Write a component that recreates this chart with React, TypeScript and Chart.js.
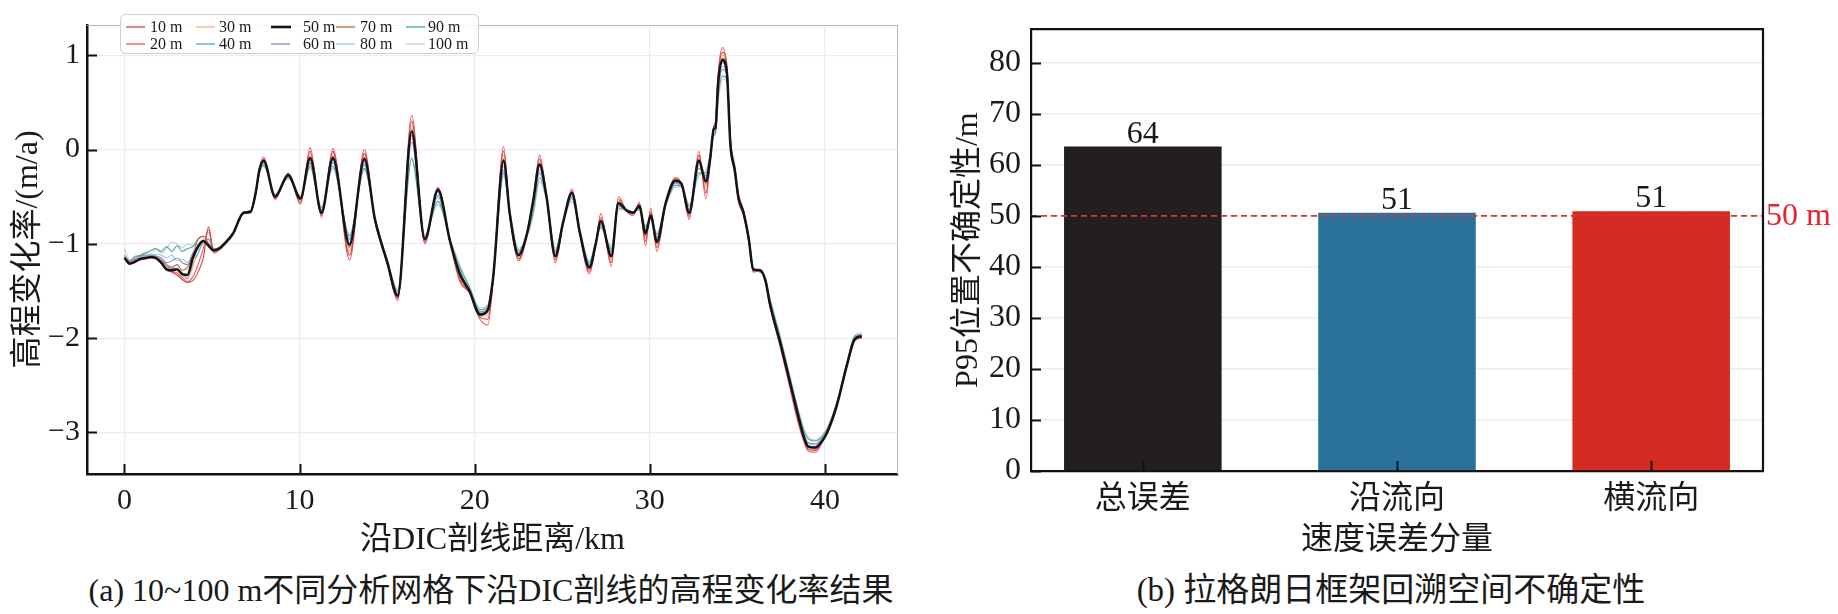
import React, { useEffect, useRef } from 'react';
import { Chart, registerables } from 'chart.js';
Chart.register(...registerables);

const SERIF = '"Liberation Serif", "Noto Sans CJK SC", serif';
const INK = '#1a1a1a';

// ---------------- (a) elevation change rate along the DIC profile ----------------
const DIST_KM = [
  0, 0.3, 0.6, 0.9, 1.2, 1.5, 1.8, 2.1, 2.4, 2.7, 3.0, 3.3, 3.6, 3.9, 4.2, 4.5, 4.8, 5.1, 5.4, 5.7, 6.2,
  6.8, 7.2, 7.5, 7.7, 7.95, 8.6, 9.35, 10.05, 10.6, 11.25,
  11.9, 12.85, 13.7, 14.3, 14.6, 15.0, 15.6, 16.4, 17.15, 17.9,
  18.6, 19.15, 19.7, 20.3, 20.75, 21.05, 21.65, 22.0, 22.5, 23.0,
  23.35, 23.7, 24.1, 24.6, 25.05, 25.55, 26.0, 26.55, 26.9, 27.2,
  27.8, 28.2, 28.7, 29.05, 29.4, 29.75, 30.05, 30.4, 30.9, 31.45,
  31.8, 32.25, 32.8, 33.2, 33.45, 33.65, 33.75, 33.9, 34.15, 34.4,
  34.6, 34.85, 35.05, 35.35, 35.65, 35.9, 36.3, 36.6, 36.85, 37.45,
  37.9, 38.4, 38.8, 39.05, 39.45, 39.8, 40.1, 40.65, 41.25, 41.7,
  42.1,
];

const GRID_LABELS = ['10 m', '20 m', '30 m', '40 m', '50 m', '60 m', '70 m', '80 m', '90 m', '100 m'];
const GRID_COLORS = ['#cc4450', '#f05555', '#f6b383', '#4ba2d6', '#141414', '#8d86c9', '#b9692f', '#95cde8', '#3fae80', '#c8c3ea'];

const RATE_10M = [
  -1.15, -1.21, -1.19, -1.17, -1.16, -1.15, -1.16, -1.21, -1.28, -1.30, -1.33, -1.38, -1.41, -1.39, -1.30, -1.15, -0.82, -1.08, -1.06, -1.01, -0.90,
  -0.68, -0.66, -0.45, -0.21, -0.10, -0.52, -0.26, -0.56, -0.02, -0.70,
  -0.02, -1.12, -0.04, -0.75, -0.96, -1.20, -1.58, 0.30, -0.98, -0.41,
  -0.99, -1.38, -1.51, -1.78, -1.80, -1.37, -0.02, -0.69, -1.16, -0.89,
  -0.52, -0.10, -0.50, -1.17, -0.78, -0.44, -0.89, -1.29, -1.01, -0.72,
  -1.20, -0.53, -0.65, -0.68, -0.58, -0.97, -0.66, -1.04, -0.57, -0.31,
  -0.36, -0.71, -0.06, -0.46, -0.11, 0.24, 0.28, 0.78, 1.03, 0.90,
  0.10, -0.20, -0.53, -0.69, -0.97, -1.29, -1.28, -1.40, -1.65, -2.08,
  -2.42, -2.82, -3.08, -3.18, -3.19, -3.11, -3.00, -2.71, -2.30, -2.02,
  -1.99,
];
const RATE_20M = [
  -1.14, -1.20, -1.19, -1.16, -1.15, -1.14, -1.15, -1.20, -1.27, -1.29, -1.31, -1.36, -1.40, -1.35, -1.22, -1.05, -0.85, -1.10, -1.07, -1.01, -0.90,
  -0.68, -0.67, -0.46, -0.20, -0.08, -0.53, -0.25, -0.58, 0.02, -0.72,
  0.01, -1.17, 0.00, -0.76, -0.97, -1.21, -1.60, 0.36, -1.00, -0.40,
  -1.00, -1.40, -1.52, -1.80, -1.86, -1.38, 0.03, -0.70, -1.18, -0.90,
  -0.52, -0.06, -0.50, -1.20, -0.78, -0.42, -0.90, -1.32, -1.02, -0.68,
  -1.24, -0.50, -0.66, -0.70, -0.56, -1.02, -0.62, -1.08, -0.58, -0.30,
  -0.36, -0.74, -0.02, -0.52, -0.12, 0.25, 0.30, 0.80, 1.08, 0.85,
  0.08, -0.25, -0.55, -0.70, -0.98, -1.30, -1.28, -1.40, -1.66, -2.10,
  -2.45, -2.85, -3.10, -3.20, -3.21, -3.12, -3.00, -2.70, -2.30, -2.03,
  -2.00,
];
const RATE_30M = [
  -1.14, -1.20, -1.18, -1.15, -1.14, -1.13, -1.14, -1.19, -1.25, -1.27, -1.28, -1.34, -1.36, -1.25, -1.02, -0.95, -0.88, -1.06, -1.05, -1.00, -0.89,
  -0.67, -0.66, -0.45, -0.21, -0.11, -0.51, -0.27, -0.54, -0.05, -0.69,
  -0.04, -1.08, -0.05, -0.75, -0.96, -1.20, -1.57, 0.25, -0.97, -0.42,
  -0.99, -1.35, -1.51, -1.77, -1.75, -1.37, -0.06, -0.69, -1.14, -0.89,
  -0.53, -0.12, -0.50, -1.15, -0.78, -0.45, -0.89, -1.27, -1.01, -0.74,
  -1.17, -0.55, -0.65, -0.68, -0.59, -0.93, -0.68, -1.01, -0.57, -0.32,
  -0.36, -0.69, -0.08, -0.40, -0.10, 0.23, 0.26, 0.75, 1.00, 0.85,
  0.08, -0.21, -0.51, -0.68, -0.96, -1.28, -1.28, -1.39, -1.64, -2.06,
  -2.40, -2.79, -3.06, -3.17, -3.18, -3.11, -3.01, -2.72, -2.29, -2.01,
  -1.98,
];
const RATE_40M = [
  -1.15, -1.20, -1.18, -1.15, -1.14, -1.13, -1.14, -1.18, -1.24, -1.26, -1.27, -1.33, -1.37, -1.22, -1.10, -0.98, -0.95, -1.05, -1.05, -1.00, -0.89,
  -0.67, -0.66, -0.45, -0.22, -0.13, -0.50, -0.28, -0.52, -0.11, -0.66,
  -0.11, -0.99, -0.12, -0.74, -0.95, -1.19, -1.54, 0.22, -0.94, -0.45,
  -0.98, -1.31, -1.50, -1.74, -1.70, -1.36, -0.12, -0.68, -1.11, -0.88,
  -0.54, -0.18, -0.50, -1.12, -0.77, -0.47, -0.88, -1.24, -1.00, -0.77,
  -1.11, -0.58, -0.65, -0.67, -0.61, -0.88, -0.71, -0.96, -0.57, -0.34,
  -0.37, -0.66, -0.14, -0.32, -0.08, 0.20, 0.22, 0.68, 0.92, 0.80,
  0.04, -0.23, -0.50, -0.67, -0.95, -1.27, -1.29, -1.38, -1.62, -2.04,
  -2.38, -2.77, -3.05, -3.14, -3.15, -3.09, -3.00, -2.73, -2.28, -2.00,
  -1.97,
];
const RATE_50M = [
  -1.15, -1.21, -1.19, -1.16, -1.15, -1.14, -1.15, -1.20, -1.27, -1.28, -1.27, -1.32, -1.33, -1.15, -1.03, -0.97, -1.02, -1.07, -1.05, -1.00, -0.89,
  -0.67, -0.66, -0.45, -0.22, -0.12, -0.50, -0.27, -0.52, -0.09, -0.67,
  -0.09, -1.01, -0.10, -0.74, -0.95, -1.19, -1.55, 0.19, -0.95, -0.43,
  -0.98, -1.32, -1.50, -1.75, -1.70, -1.36, -0.12, -0.68, -1.12, -0.88,
  -0.53, -0.16, -0.50, -1.13, -0.77, -0.46, -0.88, -1.25, -1.01, -0.76,
  -1.13, -0.57, -0.65, -0.67, -0.60, -0.89, -0.70, -0.98, -0.57, -0.33,
  -0.36, -0.67, -0.12, -0.34, -0.09, 0.22, 0.23, 0.71, 0.95, 0.81,
  0.05, -0.22, -0.50, -0.67, -0.95, -1.27, -1.28, -1.39, -1.63, -2.05,
  -2.39, -2.77, -3.05, -3.15, -3.16, -3.10, -3.01, -2.73, -2.29, -2.01,
  -1.98,
];
const RATE_60M = [
  -1.12, -1.18, -1.16, -1.13, -1.12, -1.12, -1.13, -1.15, -1.20, -1.18, -1.15, -1.20, -1.22, -1.10, -1.02, -0.97, -1.02, -1.06, -1.05, -1.00, -0.89,
  -0.67, -0.66, -0.46, -0.24, -0.15, -0.49, -0.29, -0.51, -0.15, -0.64,
  -0.14, -0.95, -0.16, -0.73, -0.94, -1.18, -1.52, 0.08, -0.93, -0.50,
  -0.97, -1.29, -1.49, -1.72, -1.68, -1.35, -0.22, -0.67, -1.09, -0.89,
  -0.58, -0.25, -0.51, -1.09, -0.77, -0.50, -0.87, -1.22, -1.00, -0.80,
  -1.08, -0.60, -0.65, -0.67, -0.62, -0.85, -0.72, -0.93, -0.58, -0.36,
  -0.38, -0.63, -0.20, -0.28, -0.06, 0.18, 0.20, 0.60, 0.85, 0.78,
  0.06, -0.22, -0.49, -0.66, -0.94, -1.26, -1.29, -1.38, -1.61, -2.03,
  -2.37, -2.75, -3.02, -3.11, -3.12, -3.07, -2.99, -2.72, -2.27, -2.00,
  -1.96,
];
const RATE_70M = [
  -1.14, -1.19, -1.17, -1.15, -1.14, -1.13, -1.14, -1.17, -1.22, -1.25, -1.22, -1.28, -1.25, -1.12, -0.95, -0.92, -1.00, -1.06, -1.05, -1.00, -0.89,
  -0.67, -0.66, -0.45, -0.22, -0.12, -0.51, -0.27, -0.53, -0.08, -0.68,
  -0.07, -1.04, -0.08, -0.75, -0.96, -1.20, -1.56, 0.15, -0.96, -0.44,
  -0.98, -1.33, -1.50, -1.76, -1.72, -1.36, -0.10, -0.68, -1.13, -0.88,
  -0.53, -0.15, -0.50, -1.14, -0.77, -0.46, -0.88, -1.26, -1.01, -0.75,
  -1.15, -0.56, -0.65, -0.68, -0.60, -0.91, -0.69, -1.00, -0.57, -0.33,
  -0.36, -0.68, -0.10, -0.37, -0.10, 0.21, 0.24, 0.72, 0.97, 0.84,
  0.06, -0.22, -0.51, -0.68, -0.96, -1.28, -1.28, -1.39, -1.64, -2.06,
  -2.39, -2.78, -3.06, -3.16, -3.17, -3.10, -3.01, -2.72, -2.29, -2.01,
  -1.98,
];
const RATE_80M = [
  -1.13, -1.18, -1.16, -1.14, -1.13, -1.12, -1.11, -1.12, -1.15, -1.12, -1.18, -1.16, -1.20, -1.10, -1.05, -0.98, -1.00, -1.05, -1.04, -1.00, -0.89,
  -0.67, -0.66, -0.46, -0.23, -0.14, -0.49, -0.28, -0.51, -0.13, -0.65,
  -0.13, -0.96, -0.14, -0.73, -0.95, -1.18, -1.52, 0.12, -0.93, -0.48,
  -0.97, -1.30, -1.49, -1.73, -1.69, -1.35, -0.18, -0.67, -1.10, -0.88,
  -0.56, -0.22, -0.51, -1.10, -0.77, -0.49, -0.87, -1.23, -1.00, -0.79,
  -1.09, -0.59, -0.65, -0.67, -0.62, -0.86, -0.72, -0.94, -0.58, -0.35,
  -0.37, -0.64, -0.17, -0.30, -0.07, 0.19, 0.21, 0.64, 0.88, 0.79,
  0.07, -0.20, -0.49, -0.66, -0.94, -1.26, -1.29, -1.38, -1.61, -2.03,
  -2.37, -2.76, -3.03, -3.12, -3.13, -3.08, -2.99, -2.72, -2.27, -1.99,
  -1.96,
];
const RATE_90M = [
  -1.15, -1.18, -1.14, -1.12, -1.10, -1.07, -1.05, -1.08, -1.03, -1.08, -1.02, -1.08, -1.05, -1.03, -0.95, -0.92, -1.00, -1.05, -1.04, -0.99, -0.88,
  -0.66, -0.65, -0.47, -0.25, -0.17, -0.48, -0.30, -0.50, -0.18, -0.62,
  -0.18, -0.92, -0.20, -0.72, -0.93, -1.17, -1.50, -0.10, -0.92, -0.55,
  -0.96, -1.25, -1.46, -1.70, -1.66, -1.34, -0.25, -0.66, -1.07, -0.90,
  -0.65, -0.30, -0.52, -1.07, -0.77, -0.52, -0.86, -1.20, -0.99, -0.82,
  -1.05, -0.62, -0.64, -0.66, -0.63, -0.82, -0.73, -0.90, -0.59, -0.38,
  -0.39, -0.60, -0.25, -0.25, -0.05, 0.15, 0.18, 0.55, 0.78, 0.75,
  0.10, -0.18, -0.47, -0.65, -0.93, -1.25, -1.30, -1.37, -1.58, -2.00,
  -2.34, -2.72, -2.98, -3.07, -3.09, -3.05, -2.97, -2.70, -2.26, -1.98,
  -1.96,
];
const RATE_100M = [
  -1.05, -1.17, -1.13, -1.12, -1.09, -1.10, -1.06, -1.10, -1.05, -0.98, -1.00, -1.04, -1.00, -1.02, -1.00, -0.97, -1.02, -1.06, -1.05, -1.00, -0.89,
  -0.66, -0.65, -0.47, -0.26, -0.18, -0.47, -0.31, -0.49, -0.20, -0.60,
  -0.20, -0.90, -0.22, -0.71, -0.92, -1.16, -1.48, -0.08, -0.90, -0.58,
  -0.95, -1.22, -1.45, -1.68, -1.64, -1.33, -0.28, -0.65, -1.05, -0.92,
  -0.70, -0.34, -0.54, -1.05, -0.78, -0.55, -0.85, -1.18, -0.98, -0.84,
  -1.02, -0.64, -0.64, -0.66, -0.64, -0.80, -0.74, -0.88, -0.60, -0.40,
  -0.40, -0.58, -0.28, -0.22, -0.04, 0.14, 0.17, 0.50, 0.75, 0.72,
  0.12, -0.16, -0.46, -0.64, -0.92, -1.24, -1.30, -1.36, -1.56, -1.98,
  -2.32, -2.70, -2.96, -3.05, -3.08, -3.04, -2.96, -2.69, -2.25, -1.97,
  -1.94,
];

const X_TITLE_A = '沿DIC剖线距离/km';
const Y_TITLE_A = '高程变化率/(m/a)';
const CAPTION_A = '(a) 10~100 m不同分析网格下沿DIC剖线的高程变化率结果';

// ---------------- (b) P95 position uncertainty ----------------
const COMPONENTS = ['总误差', '沿流向', '横流向'];
const P95_UNCERTAINTY = [63.6, 50.6, 50.9];
const BAR_COLORS = ['#231f20', '#2a7299', '#d42b22'];
const THRESHOLD_M = 50;
const THRESHOLD_LABEL = '50 m';
const X_TITLE_B = '速度误差分量';
const Y_TITLE_B = 'P95位置不确定性/m';
const CAPTION_B = '(b) 拉格朗日框架回溯空间不确定性';

const fmtMinus = (v: number) => (v < 0 ? '\u2212' + Math.abs(v) : String(v));

function drawInsideTicks(chart: any, len: number, width: number) {
  const { ctx, chartArea, scales } = chart;
  const { left, bottom } = chartArea;
  ctx.save();
  ctx.strokeStyle = '#111';
  ctx.lineWidth = width;
  scales.x.ticks.forEach((t: any) => {
    const px = Math.round(scales.x.getPixelForValue(t.value)) + 0.5;
    ctx.beginPath();
    ctx.moveTo(px, bottom);
    ctx.lineTo(px, bottom - len);
    ctx.stroke();
  });
  scales.y.ticks.forEach((t: any) => {
    const py = Math.round(scales.y.getPixelForValue(t.value)) + 0.5;
    ctx.beginPath();
    ctx.moveTo(left, py);
    ctx.lineTo(left + len, py);
    ctx.stroke();
  });
  ctx.restore();
}

const frameA = {
  id: 'frameA',
  afterDraw(chart: any) {
    const { ctx, chartArea } = chart;
    const { left, right, top, bottom } = chartArea;
    ctx.save();
    ctx.strokeStyle = '#b8b8b8';
    ctx.lineWidth = 1;
    ctx.beginPath();
    ctx.moveTo(left, top + 0.5);
    ctx.lineTo(right, top + 0.5);
    ctx.moveTo(right - 0.5, top);
    ctx.lineTo(right - 0.5, bottom);
    ctx.stroke();
    ctx.restore();
    drawInsideTicks(chart, 10, 2);
  },
};

const legendA = {
  id: 'legendA',
  afterDraw(chart: any) {
    const { ctx } = chart;
    const ds = chart.data.datasets;
    const lineX = [126, 196, 271, 336, 406];
    const textX = [150, 219, 303, 360, 428];
    const rowY = [27, 44];
    ctx.save();
    ctx.beginPath();
    ctx.roundRect(120.5, 14.5, 358, 39, 5);
    ctx.fillStyle = 'rgba(255,255,255,0.85)';
    ctx.fill();
    ctx.strokeStyle = '#cfcfcf';
    ctx.lineWidth = 1;
    ctx.stroke();
    ctx.font = `16px ${SERIF}`;
    ctx.textBaseline = 'middle';
    ds.forEach((d: any, i: number) => {
      const c = Math.floor(i / 2);
      const r = i % 2;
      const thick = d.borderWidth > 2;
      ctx.strokeStyle = d.borderColor;
      ctx.lineWidth = thick ? 2.6 : 1.3;
      ctx.beginPath();
      ctx.moveTo(lineX[c], rowY[r]);
      ctx.lineTo(lineX[c] + (thick ? 20 : 19), rowY[r]);
      ctx.stroke();
      ctx.fillStyle = INK;
      ctx.fillText(d.label, textX[c], rowY[r] + 1);
    });
    ctx.restore();
  },
};

const decorB = {
  id: 'decorB',
  afterDatasetsDraw(chart: any) {
    const { ctx, chartArea, scales } = chart;
    const { left, right } = chartArea;
    const yPx = scales.y.getPixelForValue(THRESHOLD_M);
    ctx.save();
    ctx.strokeStyle = '#d8343c';
    ctx.lineWidth = 1.6;
    ctx.setLineDash([6, 4]);
    ctx.beginPath();
    ctx.moveTo(left, yPx);
    ctx.lineTo(right, yPx);
    ctx.stroke();
    ctx.setLineDash([]);
    ctx.fillStyle = '#e8232b';
    ctx.font = `32px ${SERIF}`;
    ctx.textBaseline = 'middle';
    ctx.textAlign = 'left';
    ctx.fillText(THRESHOLD_LABEL, right + 3, yPx + 1);
    const meta = chart.getDatasetMeta(0);
    ctx.fillStyle = INK;
    ctx.textAlign = 'center';
    ctx.textBaseline = 'alphabetic';
    meta.data.forEach((el: any, i: number) => {
      ctx.fillText(String(Math.round(P95_UNCERTAINTY[i])), el.x, el.y - 4);
    });
    ctx.restore();
  },
  afterDraw(chart: any) {
    const { ctx, chartArea } = chart;
    const { left, right, top, bottom } = chartArea;
    ctx.save();
    ctx.strokeStyle = '#111';
    ctx.lineWidth = 2.2;
    ctx.beginPath();
    ctx.moveTo(left, top);
    ctx.lineTo(right, top);
    ctx.lineTo(right, bottom);
    ctx.stroke();
    ctx.restore();
    drawInsideTicks(chart, 10, 2);
  },
};

function ProfileChart() {
  const ref = useRef<HTMLCanvasElement>(null);
  useEffect(() => {
    const series = [RATE_10M, RATE_20M, RATE_30M, RATE_40M, RATE_50M, RATE_60M, RATE_70M, RATE_80M, RATE_90M, RATE_100M];
    const chart = new Chart(ref.current as HTMLCanvasElement, {
      type: 'line',
      data: {
        datasets: series.map((arr, i) => ({
          label: GRID_LABELS[i],
          data: DIST_KM.map((x, j) => ({ x, y: arr[j] })),
          borderColor: GRID_COLORS[i],
          borderWidth: i === 4 ? 2.5 : 1.1,
          pointRadius: 0,
          fill: false,
          cubicInterpolationMode: 'monotone',
          order: i === 4 ? 0 : 1,
        })),
      },
      options: {
        responsive: false,
        animation: false,
        events: [],
        layout: { padding: { left: 0, top: 13, right: 22, bottom: 0 } },
        plugins: { legend: { display: false }, tooltip: { enabled: false } },
        scales: {
          x: {
            type: 'linear',
            min: -2.14,
            max: 44.17,
            ticks: {
              stepSize: 10,
              includeBounds: false,
              autoSkip: false,
              maxRotation: 0,
              padding: 9,
              color: INK,
              font: { family: SERIF, size: 30 },
            },
            grid: { color: '#ececec', lineWidth: 1.2, drawTicks: false },
            border: { display: true, color: '#111', width: 2.5 },
            title: {
              display: true,
              text: X_TITLE_A,
              color: INK,
              font: { family: SERIF, size: 32 },
              padding: { top: 0, bottom: 0 },
            },
            afterFit: (s: any) => {
              s.height = 86;
            },
          },
          y: {
            type: 'linear',
            min: -3.44,
            max: 1.32,
            ticks: {
              stepSize: 1,
              includeBounds: false,
              padding: 7,
              color: INK,
              font: { family: SERIF, size: 30 },
              callback: (v: any) => fmtMinus(Number(v)),
            },
            grid: { color: '#ececec', lineWidth: 1.2, drawTicks: false },
            border: { display: true, color: '#111', width: 2.5 },
            title: {
              display: true,
              text: Y_TITLE_A,
              color: INK,
              font: { family: SERIF, size: 32 },
              padding: { top: 9, bottom: 0 },
            },
            afterFit: (s: any) => {
              s.width = 87;
            },
          },
        },
      },
      plugins: [frameA, legendA],
    } as any);
    return () => chart.destroy();
  }, []);
  return (
    <canvas
      ref={ref}
      width={920}
      height={560}
      style={{ position: 'absolute', left: 0, top: 0, width: 920, height: 560 }}
    />
  );
}

function UncertaintyChart() {
  const ref = useRef<HTMLCanvasElement>(null);
  useEffect(() => {
    const chart = new Chart(ref.current as HTMLCanvasElement, {
      type: 'bar',
      data: {
        datasets: [
          {
            data: P95_UNCERTAINTY.map((v, i) => ({ x: i, y: v })),
            backgroundColor: BAR_COLORS,
            borderWidth: 0,
            barPercentage: 0.62,
            categoryPercentage: 1,
          },
        ],
      },
      options: {
        responsive: false,
        animation: false,
        events: [],
        layout: { padding: { left: 0, top: 27, right: 75, bottom: 0 } },
        plugins: { legend: { display: false }, tooltip: { enabled: false } },
        scales: {
          x: {
            type: 'linear',
            min: -0.44,
            max: 2.44,
            offset: false,
            ticks: {
              stepSize: 1,
              includeBounds: false,
              autoSkip: false,
              maxRotation: 0,
              padding: 9,
              color: INK,
              font: { family: SERIF, size: 32 },
              callback: (v: any) => COMPONENTS[Number(v)] ?? '',
            },
            grid: { display: false, offset: false, drawTicks: false },
            border: { display: true, color: '#111', width: 2.2 },
            title: {
              display: true,
              text: X_TITLE_B,
              color: INK,
              font: { family: SERIF, size: 32 },
              padding: { top: 0, bottom: 0 },
            },
            afterFit: (s: any) => {
              s.height = 89;
            },
          },
          y: {
            type: 'linear',
            min: 0,
            max: 86.6,
            ticks: {
              stepSize: 10,
              includeBounds: false,
              padding: 10,
              color: INK,
              font: { family: SERIF, size: 32 },
            },
            grid: { color: '#ececec', lineWidth: 1.5, drawTicks: false },
            border: { display: true, color: '#111', width: 2.2 },
            title: {
              display: true,
              text: Y_TITLE_B,
              color: INK,
              font: { family: SERIF, size: 32 },
              padding: { top: 29, bottom: 0 },
            },
            afterFit: (s: any) => {
              s.width = 111;
            },
          },
        },
      },
      plugins: [decorB],
    } as any);
    return () => chart.destroy();
  }, []);
  return (
    <canvas
      ref={ref}
      width={918}
      height={560}
      style={{ position: 'absolute', left: 920, top: 0, width: 918, height: 560 }}
    />
  );
}

const captionStyle = (cx: number, size: number): React.CSSProperties => ({
  position: 'absolute',
  left: cx,
  top: 590,
  transform: 'translate(-50%, -50%)',
  whiteSpace: 'nowrap',
  fontFamily: SERIF,
  fontSize: size,
  color: INK,
  lineHeight: 1,
});

export default function App() {
  return (
    <div
      style={{
        position: 'absolute',
        left: 0,
        top: 0,
        width: 1838,
        height: 614,
        background: '#fff',
        overflow: 'hidden',
      }}
    >
      <ProfileChart />
      <UncertaintyChart />
      <div style={captionStyle(491, 32)}>{CAPTION_A}</div>
      <div style={captionStyle(1391, 33)}>{CAPTION_B}</div>
    </div>
  );
}
